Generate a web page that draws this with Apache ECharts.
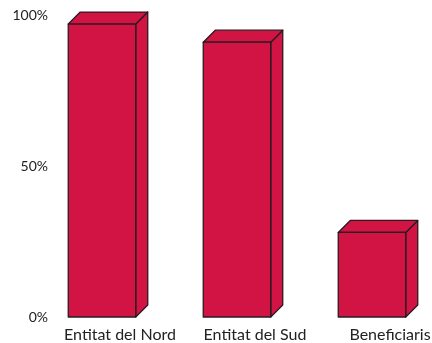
<!DOCTYPE html>
<html lang="ca">
<head>
    <meta charset="UTF-8">
    <title>Entitats</title>
    <script src="https://cdn.jsdelivr.net/npm/echarts@6/dist/echarts.min.js"></script>
    <style>
        html, body { margin: 0; padding: 0; background: #fff; }
    </style>
</head>
<body>
    <div id="main" style="width: 432px;height:343px;"></div>
    <script type="text/javascript">

        // data
        var categories = ['Entitat del Nord', 'Entitat del Sud', 'Beneficiaris'];
        var values = [97, 91, 28];
        var yTicks = [0, 50, 100];

        var barColor = '#d11443';
        var edgeColor = '#2b1a20';
        var depth = 12;

        var chartDom = document.getElementById('main');
        var myChart = echarts.init(chartDom);

        function renderBar(params, api) {
            var base = api.coord([api.value(0), 0]);
            var top = api.coord([api.value(0), api.value(1)]);
            var w = api.size([1, 0])[0] * 0.5;
            var x0 = base[0] - w / 2;
            var x1 = base[0] + w / 2;
            var yt = top[1];
            var yb = base[1];
            var st = { fill: barColor, stroke: edgeColor, lineWidth: 1.3, lineJoin: 'round' };
            return {
                type: 'group',
                children: [
                    {
                        type: 'polygon',
                        shape: { points: [[x1, yt], [x1 + depth, yt - depth], [x1 + depth, yb - depth], [x1, yb]] },
                        style: st
                    },
                    {
                        type: 'polygon',
                        shape: { points: [[x0, yt], [x0 + depth, yt - depth], [x1 + depth, yt - depth], [x1, yt]] },
                        style: st
                    },
                    {
                        type: 'rect',
                        shape: { x: x0, y: yt, width: w, height: yb - yt },
                        style: st
                    }
                ]
            };
        }

        var option = {
            animation: false,
            grid: {
                left: 102,
                right: 60,
                top: 15,
                bottom: 26,
                outerBoundsMode: 'none'
            },
            xAxis: {
                type: 'category',
                data: categories,
                boundaryGap: false,
                axisLine: { show: false },
                axisTick: { show: false },
                splitLine: { show: false },
                axisLabel: {
                    interval: 0,
                    hideOverlap: false,
                    margin: 10,
                    color: '#222',
                    fontFamily: 'Lato',
                    fontSize: 16,
                    padding: [0, 0, 0, 36]
                }
            },
            yAxis: {
                type: 'value',
                min: yTicks[0],
                max: yTicks[yTicks.length - 1],
                interval: yTicks[1] - yTicks[0],
                axisLine: { show: false },
                axisTick: { show: false },
                splitLine: { show: false },
                axisLabel: {
                    margin: 54,
                    color: '#222',
                    fontFamily: 'Lato',
                    fontSize: 14,
                    formatter: '{value}%'
                }
            },
            series: [{
                type: 'custom',
                clip: false,
                renderItem: renderBar,
                data: values.map(function (v, i) { return [i, v]; })
            }]
        };
        myChart.setOption(option);

    </script>
</body>
</html>
